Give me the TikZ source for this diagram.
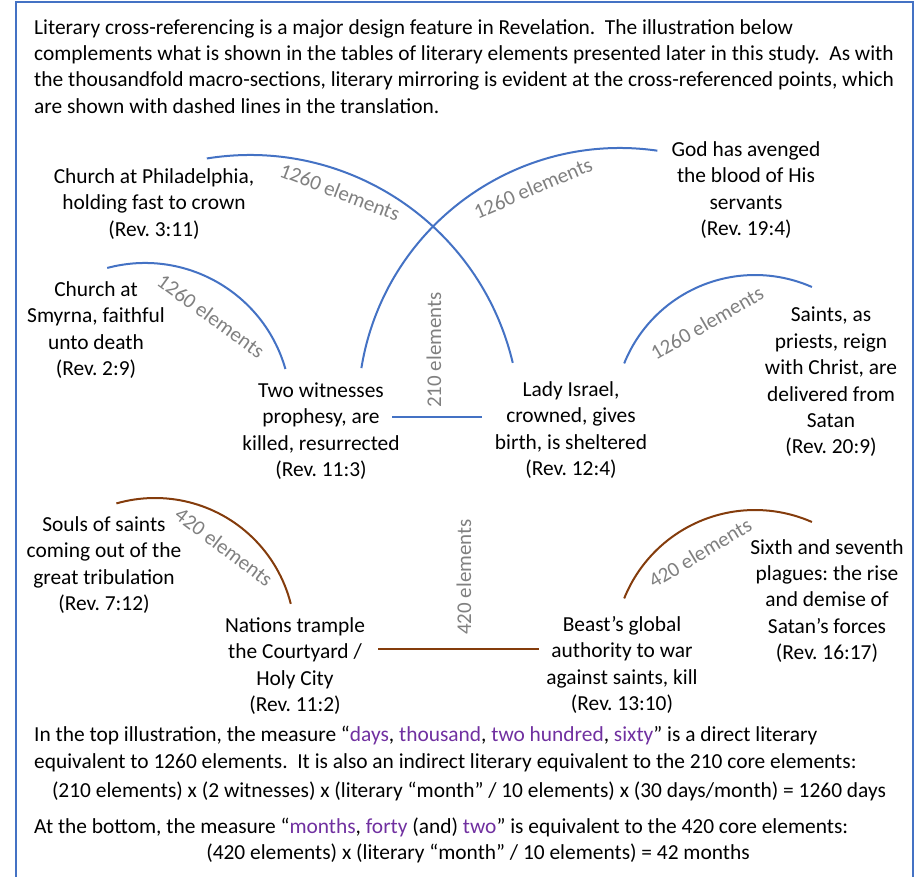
\documentclass[tikz,border=0pt]{standalone}
\usepackage{fontspec}
\setmainfont{Carlito}
\frenchspacing
\definecolor{arcblue}{HTML}{4472C4}
\definecolor{arcbrown}{HTML}{843C0C}
\definecolor{lblgray}{HTML}{808080}
\definecolor{txtpurple}{HTML}{7030A0}
\definecolor{frameblue}{HTML}{4472C4}
\newcommand{\pw}[1]{\textcolor{txtpurple}{#1}}
\begin{document}
\begin{tikzpicture}[x=1pt,y=-1pt,
  txt/.style={align=center, font=\fontsize{21.4}{26.4}\selectfont, inner sep=0pt},
  para/.style={align=left, font=\fontsize{21.4}{26.4}\selectfont, inner sep=0pt},
  lbl/.style={text=lblgray, font=\fontsize{21}{24}\selectfont, inner sep=0pt},
  bluearc/.style={draw=arcblue, line width=2pt},
  brownarc/.style={draw=arcbrown, line width=2pt},
]
\useasboundingbox (0,0) rectangle (919,877);
\begin{scope}
\clip (0,0) rectangle (919,877);
\draw[frameblue, line width=1.4pt] (16,2) rectangle (913,900);
\end{scope}

% intro paragraph
\node[para, anchor=north west] (intro) at (34,19) {Literary cross-referencing is a major design feature in Revelation.\ \ The illustration below\\complements what is shown in the tables of literary elements presented later in this study.\ \ As with\\the thousandfold macro-sections, literary mirroring is evident at the cross-referenced points, which\\are shown with dashed lines in the translation.};

% arc centres
\coordinate (c1) at (250,425);
\coordinate (c2) at (620,410);
\coordinate (c3) at (145,409);
\coordinate (c4) at (755,416);
\coordinate (c5) at (155,638);
\coordinate (c6) at (755,651);

% arcs
\draw[bluearc] (c1) ++(-99.2:270) arc[start angle=-99.2, end angle=-13.3, radius=270];
\draw[bluearc] (c2) ++(-170.8:262) arc[start angle=-170.8, end angle=-81.8, radius=262];
\draw[bluearc] (c3) ++(-105:146) arc[start angle=-105, end angle=-15.9, radius=146];
\draw[bluearc] (c4) ++(-158.1:141) arc[start angle=-158.1, end angle=-66.2, radius=141];
\draw[brownarc] (c5) ++(-106:140) arc[start angle=-106, end angle=-14.1, radius=140];
\draw[brownarc] (c6) ++(-158.1:141) arc[start angle=-158.1, end angle=-66.2, radius=141];

% text blocks
\node[txt] (phil) at (154,204) {Church at Philadelphia,\\holding fast to crown\\(Rev. 3:11)};
\node[txt] (smyrna) at (96,330) {Church at\\Smyrna, faithful\\unto death\\(Rev. 2:9)};
\node[txt] (twow) at (321,431) {Two witnesses\\prophesy, are\\killed, resurrected\\(Rev. 11:3)};
\node[txt] (lady) at (571,430) {Lady Israel,\\crowned, gives\\birth, is sheltered\\(Rev. 12:4)};
\node[txt] (god) at (746,190) {God has avenged\\the blood of His\\servants\\(Rev. 19:4)};
\node[txt] (saints) at (831,382) {Saints, as\\priests, reign\\with Christ, are\\delivered from\\Satan\\(Rev. 20:9)};
\node[txt] (souls) at (104,565) {Souls of saints\\coming out of the\\great tribulation\\(Rev. 7:12)};
\node[txt] (nations) at (295,666) {Nations trample\\the Courtyard /\\Holy City\\(Rev. 11:2)};
\node[txt] (beast) at (622,665) {Beast’s global\\authority to war\\against saints, kill\\(Rev. 13:10)};
\node[txt] (sixth) at (827,601) {Sixth and seventh\\plagues: the rise\\and demise of\\Satan’s forces\\(Rev. 16:17)};

% horizontal links
\coordinate (l1a) at (392,417);
\coordinate (l1b) at (482,417);
\coordinate (l2a) at (378,649);
\coordinate (l2b) at (539,649);
\draw[bluearc] (l1a) -- (l1b);
\draw[brownarc] (l2a) -- (l2b);

% gray labels
\node[lbl, rotate=-21] (g1) at (340,192) {1260 elements};
\node[lbl, rotate=-36] (g2) at (211,316) {1260 elements};
\node[lbl, rotate=23] (g3) at (533,188) {1260 elements};
\node[lbl, rotate=30] (g4) at (707,323) {1260 elements};
\node[lbl, rotate=-37] (g5) at (224,547) {420 elements};
\node[lbl, rotate=31] (g6) at (700,553) {420 elements};
\node[lbl, rotate=90] (g7) at (434,350) {210 elements};
\node[lbl, rotate=90] (g8) at (464,577) {420 elements};

% bottom paragraphs
\node[para, anchor=north west] (p1) at (34,726) {In the top illustration, the measure “\pw{days}, \pw{thousand}, \pw{two hundred}, \pw{sixty}” is a direct literary\\equivalent to 1260 elements.\ \ It is also an indirect literary equivalent to the 210 core elements:};
\node[para, anchor=base] (p2) at (469,797) {(210 elements) x (2 witnesses) x (literary “month” / 10 elements) x (30 days/month) = 1260 days};
\node[para, anchor=base west] (p3) at (34,833) {At the bottom, the measure “\pw{months}, \pw{forty} (and) \pw{two}” is equivalent to the 420 core elements:};
\node[para, anchor=base] (p4) at (478,859) {(420 elements) x (literary “month” / 10 elements) = 42 months};
\end{tikzpicture}
\end{document}
